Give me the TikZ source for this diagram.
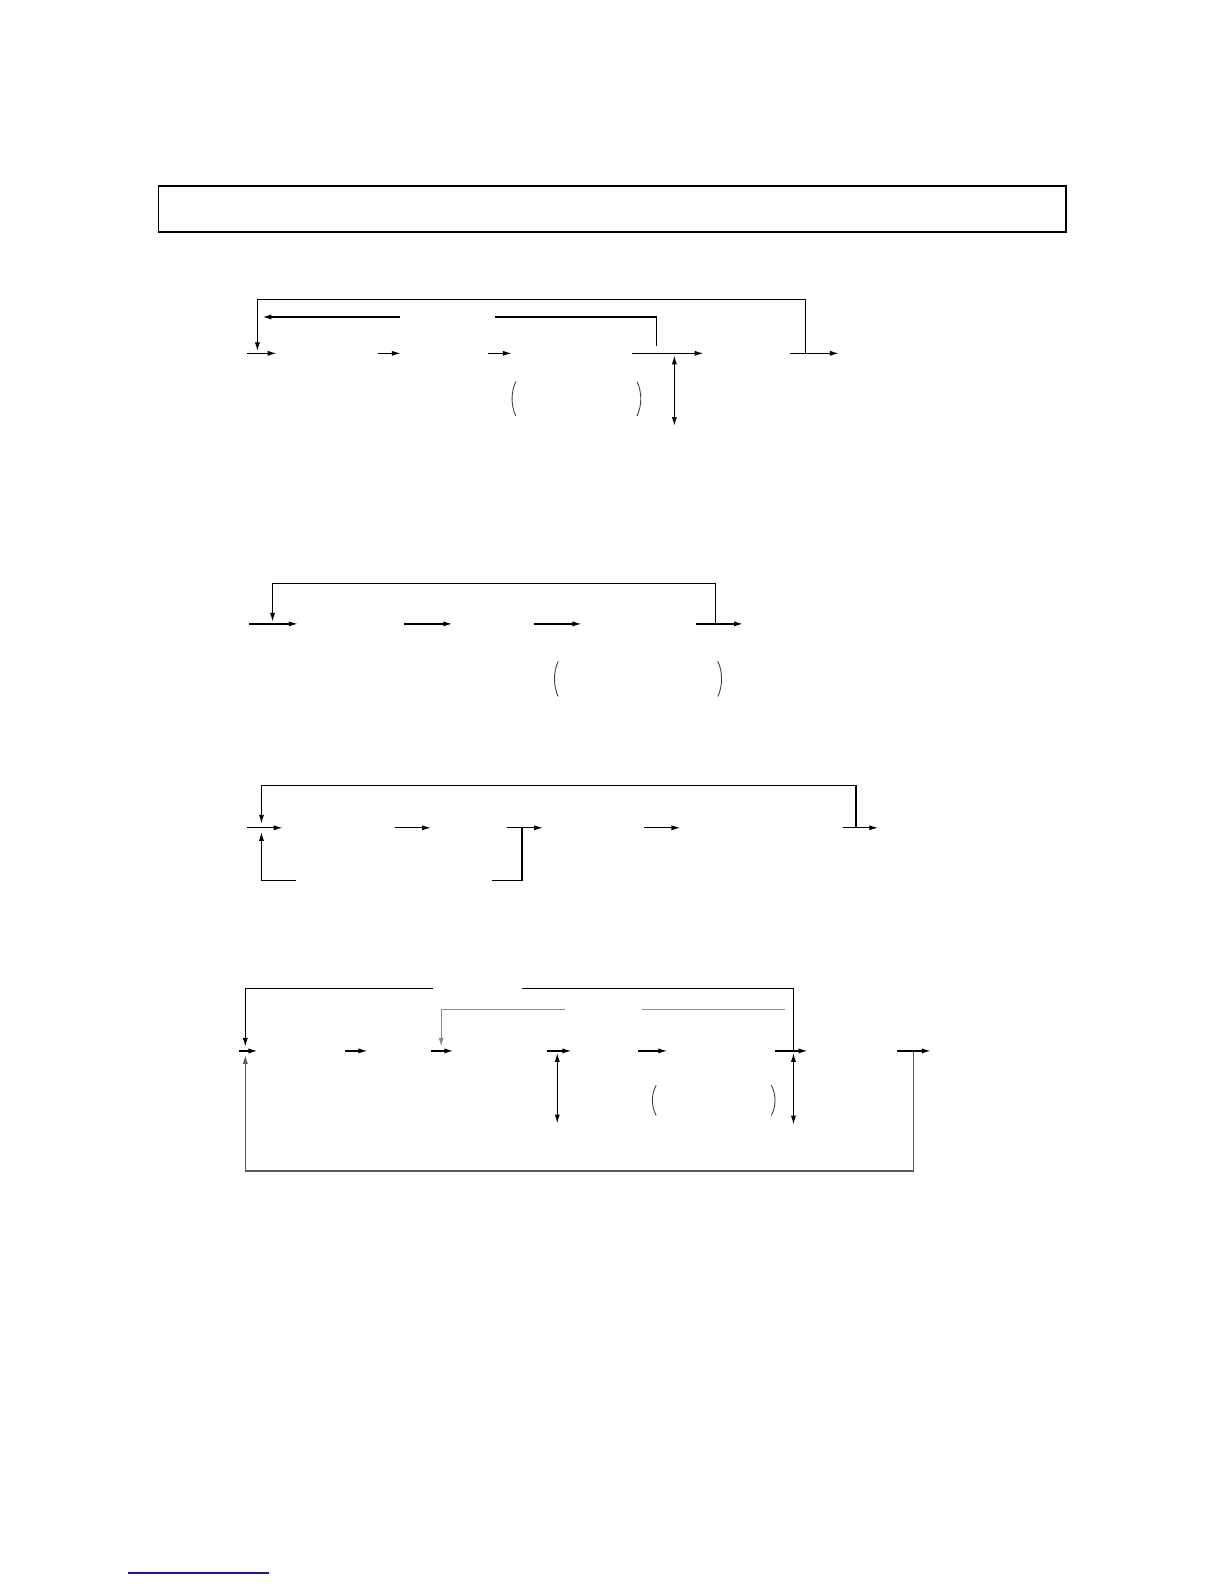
\documentclass[tikz,border=0pt]{standalone}
\usepackage{tikz}
\usepackage{xcolor}
\usetikzlibrary{arrows.meta}

\definecolor{rulecolor}{RGB}{25,25,140}

\tikzset{
  wire/.style={line width=0.65pt},
  flow/.style={wire, -{Latex[length=4.5pt,width=2.6pt]}},
  twoway/.style={wire, {Latex[length=4.5pt,width=2.6pt]}-{Latex[length=4.5pt,width=2.6pt]}},
  faint/.style={black!45},
  loopback/.style={black!65},
  paren/.style={line width=0.45pt, black!75},
}

\begin{document}
\begin{tikzpicture}[x=0.5pt, y=-0.5pt]
  \useasboundingbox (0,0) rectangle (1224,1584);
  \begin{scope}[scale=1.0095]

  % heading box
  \draw[line width=0.9pt] (157,184) rectangle (1056,230);

  % first chain
  \draw[flow] (798,350) |- (255,297) -- (255,348);
  \draw[flow] (396,314) -- (260,314);
  \draw[wire] (490,314) -| (650,343);
  \foreach \a/\b in {245/274, 374/397, 483/507, 626/697, 783/831}
    \draw[flow] (\a,350) -- (\b,350);
  \draw[twoway] (668,352) -- (668,422);
  \draw[paren] (511,378) .. controls (506,388) and (506,402) .. (511,412);
  \draw[paren] (631,378) .. controls (636,388) and (636,402) .. (631,412);

  % second chain
  \draw[flow] (709,618) |- (270,578) -- (270,616);
  \foreach \a/\b in {247/295, 400/448, 529/576, 689/736}
    \draw[flow] (\a,618) -- (\b,618);
  \draw[paren] (553,655) .. controls (548,665) and (548,680) .. (553,690);
  \draw[paren] (711,655) .. controls (716,665) and (716,680) .. (711,690);

  % third chain
  \draw[flow] (848,820) |- (259,778) -- (259,816);
  \draw[flow] (293,872) -| (259,824);
  \draw[wire] (487,872) -| (517,820);
  \foreach \a/\b in {245/280, 391/427, 502/538, 638/674, 835/870}
    \draw[flow] (\a,820) -- (\b,820);

  % fourth chain
  \draw[flow] (429,979) -| (243,1037);
  \draw[wire] (517,979) -| (786,1041);
  \draw[flow, faint] (560,1000) -| (437,1037);
  \draw[wire, faint] (636,1000) -- (778,1000);
  \draw[flow, loopback] (905,1041) |- (243,1160) -- (243,1045);
  \foreach \a/\b in {237/255, 342/364, 427/449, 542/566, 632/661, 768/800, 889/922}
    \draw[flow] (\a,1041) -- (\b,1041);
  \draw[twoway] (552,1043) -- (552,1113);
  \draw[twoway] (786,1043) -- (786,1114);
  \draw[paren] (650,1075) .. controls (645,1084) and (645,1096) .. (650,1105);
  \draw[paren] (764,1075) .. controls (769,1084) and (769,1096) .. (764,1105);

  % footnote rule
  \draw[rulecolor, line width=0.8pt] (127,1558) -- (266,1558);
  \end{scope}
\end{tikzpicture}
\end{document}
